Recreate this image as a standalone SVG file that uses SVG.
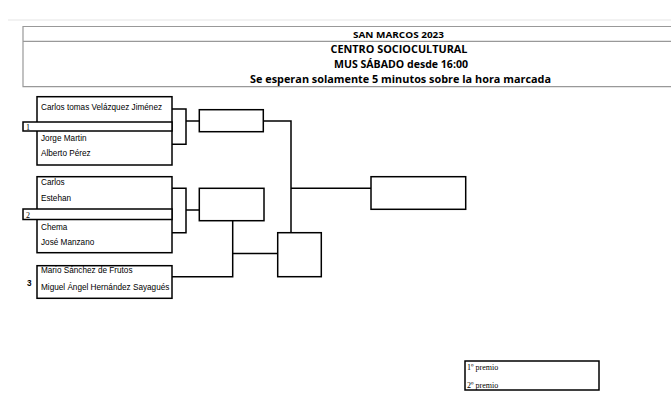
<svg xmlns="http://www.w3.org/2000/svg" width="671" height="400" viewBox="0 0 671 400">
<style>
.hdr{font-family:"Open Sans","Liberation Sans",sans-serif;font-weight:bold;fill:#000;text-anchor:middle}
.nm{font-family:"Liberation Sans",Arial,sans-serif;font-size:8.2px;fill:#000}
.sr{font-family:"Liberation Serif","Times New Roman",serif;font-size:8px;fill:#000}
.box{fill:#fff;stroke:#000;stroke-width:1.5}
.ln{fill:none;stroke:#000;stroke-width:1.5}
.grey{fill:none;stroke:#999;stroke-width:1.2}
</style>
<rect width="671" height="400" fill="#fff"/>
<line x1="8" y1="20" x2="671" y2="20" stroke="#eee" stroke-width="1.5"/>
<g id="header">
<path class="grey" d="M672,26.5 H23 V86.7 H672 M23,41.3 H672"/>
<text class="hdr" x="398.5" y="38" font-size="9.5" font-weight="600" textLength="91" lengthAdjust="spacingAndGlyphs">SAN MARCOS 2023</text>
<text class="hdr" x="399" y="53" font-size="11" textLength="137" lengthAdjust="spacingAndGlyphs">CENTRO SOCIOCULTURAL</text>
<text class="hdr" x="401" y="68" font-size="11" textLength="134" lengthAdjust="spacingAndGlyphs">MUS SÁBADO desde 16:00</text>
<text class="hdr" x="400.5" y="82.5" font-size="11" textLength="301" lengthAdjust="spacingAndGlyphs">Se esperan solamente 5 minutos sobre la hora marcada</text>
</g>
<g id="connectors">
<path class="ln" d="M172,109 H186 V144.3 H172"/>
<path class="ln" d="M186,121 H199.3"/>
<path class="ln" d="M263.5,121 H291 V232.7"/>
<path class="ln" d="M291,188.3 H371"/>
<path class="ln" d="M172,188.3 H186 V232.7 H172"/>
<path class="ln" d="M186,210 H199.3"/>
<path class="ln" d="M232.7,220.7 V276.7 H172"/>
<path class="ln" d="M232.7,253.5 H277.7"/>
</g>
<g id="group1">
<rect class="box" x="37" y="96.7" width="135" height="68.3"/>
<rect class="box" x="23" y="122" width="149" height="9"/>
<text class="sr" x="26" y="129.5" font-size="6.5">1</text>
<text class="nm" x="41" y="109.5">Carlos tomas Velázquez Jiménez</text>
<text class="nm" x="41" y="140.5">Jorge Martin</text>
<text class="nm" x="41" y="156">Alberto Pérez</text>
</g>
<g id="group2">
<rect class="box" x="37" y="176.7" width="135" height="76"/>
<rect class="box" x="23" y="209" width="149" height="10.5"/>
<text class="sr" x="26" y="217.5" font-size="6.5">2</text>
<text class="nm" x="41" y="185">Carlos</text>
<text class="nm" x="41" y="200.5">Estehan</text>
<text class="nm" x="41" y="229.5">Chema</text>
<text class="nm" x="41" y="244.5">José Manzano</text>
</g>
<g id="group3">
<rect class="box" x="37" y="265.7" width="135" height="32.6"/>
<text class="nm" x="27" y="286" font-weight="bold">3</text>
<text class="nm" x="41" y="272.5">Mario Sánchez de Frutos</text>
<text class="nm" x="41" y="289.5">Miguel Ángel Hernández Sayagués</text>
</g>
<g id="semi1"><rect class="box" x="199.3" y="109.7" width="64" height="22"/></g>
<g id="semi2"><rect class="box" x="199.3" y="188.3" width="64.7" height="32.4"/></g>
<g id="semi3"><rect class="box" x="277.7" y="232.7" width="43.6" height="44"/></g>
<g id="final"><rect class="box" x="371" y="176.7" width="94.7" height="32.6"/></g>
<g id="prizes">
<rect class="box" x="465" y="361" width="134" height="29" stroke-width="2"/>
<text class="sr" x="467" y="370">1º premio</text>
<text class="sr" x="467" y="388">2º premio</text>
</g>
</svg>
